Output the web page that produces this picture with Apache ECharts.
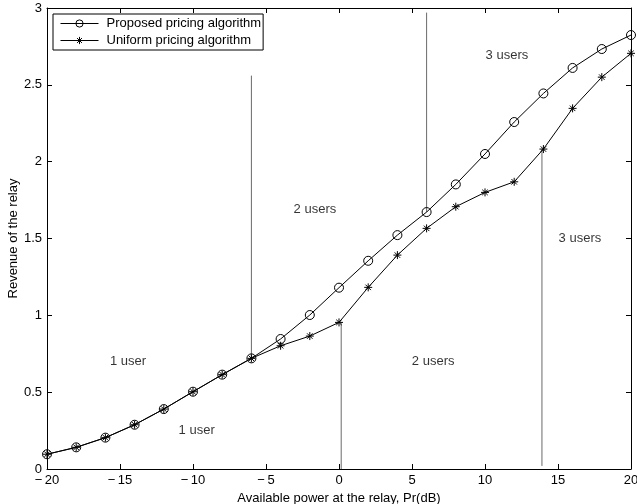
<!DOCTYPE html>
<html>
<head>
<meta charset="utf-8">
<script src="https://cdn.jsdelivr.net/npm/echarts@6/dist/echarts.min.js"></script>
<style>
  html, body { margin: 0; padding: 0; background: #fff; }
  #chart { width: 637px; height: 504px; }
</style>
</head>
<body>
<div id="chart"></div>
<script>
// Available relay power, Pr (dB)
const powerDb = [-20, -18, -16, -14, -12, -10, -8, -6, -4, -2, 0, 2, 4, 6, 8, 10, 12, 14, 16, 18, 20];

// Revenue of the relay for each pricing scheme
const proposedRevenue = [0.096, 0.141, 0.204, 0.288, 0.390, 0.503, 0.614, 0.720, 0.846, 1.002, 1.180, 1.355, 1.522, 1.672, 1.852, 2.050, 2.258, 2.444, 2.610, 2.733, 2.824];
const uniformRevenue  = [0.096, 0.141, 0.204, 0.288, 0.390, 0.503, 0.614, 0.720, 0.802, 0.865, 0.954, 1.182, 1.392, 1.566, 1.707, 1.800, 1.869, 2.082, 2.347, 2.550, 2.705];

// Boundaries where the number of served users changes: [x, yStart, yEnd]
const boundaries = [
  [-6, 0.720, 2.56],
  [6, 1.672, 2.97],
  [0.15, 0, 0.954],
  [13.9, 0.02, 2.082]
];

// Region annotations: [x, y, text]
const regionLabels = [
  [-14.45, 0.70, '1 user'],
  [-9.75, 0.25, '1 user'],
  [-1.65, 1.69, '2 users'],
  [6.45, 0.70, '2 users'],
  [11.5, 2.69, '3 users'],
  [16.5, 1.50, '3 users']
];

const xTicks = { min: -20, max: 20, interval: 5 };
const yTicks = { min: 0, max: 3, interval: 0.5 };

const FONT = 'Liberation Sans, Arial, sans-serif';
const FS = 13;
const starPath = 'path://M5,0L5,10M0,5L10,5M1.6,1.6L8.4,8.4M1.6,8.4L8.4,1.6';

const pairs = (ys) => powerDb.map((x, i) => [x, ys[i]]);

const axisBase = {
  axisLine: { show: true, onZero: false, lineStyle: { color: '#000', width: 1 } },
  axisTick: { show: true, inside: true, length: 5, lineStyle: { color: '#000' } },
  splitLine: { show: false }
};

const markerStyle = { color: 'transparent', borderColor: '#000', borderWidth: 1 };

const series = [
  {
    name: 'Proposed pricing algorithm',
    type: 'line',
    data: pairs(proposedRevenue),
    symbol: 'circle',
    symbolSize: 9,
    showAllSymbol: true,
    lineStyle: { color: '#000', width: 1 },
    itemStyle: markerStyle,
    z: 5
  },
  {
    name: 'Uniform pricing algorithm',
    type: 'line',
    data: pairs(uniformRevenue),
    symbol: starPath,
    symbolSize: 8,
    showAllSymbol: true,
    lineStyle: { color: '#000', width: 1 },
    itemStyle: markerStyle,
    z: 5
  }
];

boundaries.forEach((b, i) => {
  series.push({
    name: 'boundary' + i,
    type: 'line',
    data: [[b[0], b[1]], [b[0], b[2]]],
    symbol: 'none',
    lineStyle: { color: '#6a6a6a', width: 1 },
    silent: true,
    z: 3
  });
});

series.push({
  name: 'regions',
  type: 'scatter',
  symbolSize: 0,
  silent: true,
  data: regionLabels.map(r => ({ value: [r[0], r[1]], name: r[2] })),
  label: {
    show: true,
    position: 'inside',
    formatter: p => p.name,
    color: '#000',
    fontFamily: FONT,
    fontSize: FS
  },
  z: 4
});

const chart = echarts.init(document.getElementById('chart'), null, { renderer: 'canvas' });
chart.setOption({
  animation: false,
  backgroundColor: '#fff',
  grid: { left: 47, right: 6, top: 8, bottom: 35, containLabel: false, outerBoundsMode: 'none' },
  legend: {
    data: ['Proposed pricing algorithm', 'Uniform pricing algorithm'],
    orient: 'vertical',
    left: 53,
    top: 14,
    itemWidth: 38,
    itemHeight: 9,
    itemGap: 4,
    padding: [3, 2, 3, 7],
    borderColor: '#000',
    borderWidth: 1,
    backgroundColor: '#fff',
    itemStyle: { color: 'transparent', borderColor: '#000', borderWidth: 1 },
    lineStyle: { color: '#000', width: 1 },
    textStyle: { fontFamily: FONT, fontSize: FS, color: '#000', padding: [0, 0, 0, 3] }
  },
  xAxis: [
    Object.assign({
      type: 'value', position: 'bottom',
      min: xTicks.min, max: xTicks.max, interval: xTicks.interval,
      name: 'Available power at the relay, Pr(dB)',
      nameLocation: 'middle', nameGap: 23, nameMoveOverlap: false,
      nameTextStyle: { fontFamily: FONT, fontSize: FS, color: '#000' },
      axisLabel: {
        fontFamily: FONT, fontSize: FS, color: '#000', margin: 5,
        formatter: v => (v < 0 ? '\u2212\u2009' + Math.abs(v) : String(v))
      }
    }, axisBase),
    Object.assign({
      type: 'value', position: 'top',
      min: xTicks.min, max: xTicks.max, interval: xTicks.interval,
      axisLabel: { show: false }
    }, axisBase)
  ],
  yAxis: [
    Object.assign({
      type: 'value', position: 'left',
      min: yTicks.min, max: yTicks.max, interval: yTicks.interval,
      name: 'Revenue of the relay',
      nameLocation: 'middle', nameGap: 27, nameMoveOverlap: false,
      nameTextStyle: { fontFamily: FONT, fontSize: FS, color: '#000' },
      axisLabel: { fontFamily: FONT, fontSize: FS, color: '#000', margin: 5 }
    }, axisBase),
    Object.assign({
      type: 'value', position: 'right',
      min: yTicks.min, max: yTicks.max, interval: yTicks.interval,
      axisLabel: { show: false }
    }, axisBase)
  ],
  series: series
});
</script>
</body>
</html>
